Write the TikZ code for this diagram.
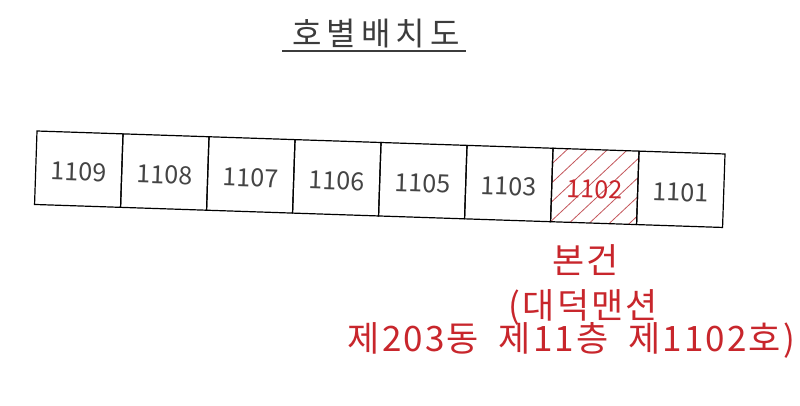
\documentclass[tikz,border=0pt]{standalone}
\usepackage{fontspec}
\newfontfamily\kr{Noto Sans CJK KR}
\newfontfamily\krsp[LetterSpace=6]{Noto Sans CJK KR}
\newfontfamily\krtitle[LetterSpace=16]{Noto Sans CJK KR}
\definecolor{titlegray}{HTML}{3C3C3C}
\definecolor{numgray}{HTML}{444444}
\definecolor{redtxt}{HTML}{C8262C}
\definecolor{hatchred}{HTML}{C4575C}
\tikzset{
  unitbox/.style={draw=black, line width=1.2pt, minimum width=86.05pt, minimum height=73.5pt, inner sep=0pt,
    text height=23.5pt, text depth=0pt,
    font=\kr\fontsize{25}{25}\selectfont, text=numgray},
  hatchline/.style={draw=hatchred, line width=0.8pt},
  redlabel/.style={font=\krsp\fontsize{35}{35}\selectfont, text=redtxt, inner sep=0pt, anchor=base}
}
\begin{document}
\begin{tikzpicture}[x=1pt,y=-1pt]
\useasboundingbox (0,0) rectangle (800,405);
\fill[white] (0,0) rectangle (800,405);
% title
\node[font=\krtitle\fontsize{32}{32}\selectfont, text=titlegray, inner sep=0pt, anchor=base] (title) at (376,45) {호별배치도};
\coordinate (ulA) at (282,51);
\coordinate (ulB) at (466,51);
\draw[titlegray, line width=2pt] (ulA) -- (ulB);
% strip
\begin{scope}[shift={(37,131)}, rotate=-1.915, transform shape]
  \begin{scope}
    \clip (516.3,0) rectangle (602.35,73.5);
    \foreach \k in {-5,...,5}
      \draw[hatchline] ({516.3+\k*19.5},73.5) -- ({516.3+\k*19.5+73.5},0);
  \end{scope}
  \node[unitbox] (b1109) at (43.03,36.75) {1109};
  \node[unitbox] (b1108) at (129.08,36.75) {1108};
  \node[unitbox] (b1107) at (215.13,36.75) {1107};
  \node[unitbox] (b1106) at (301.18,36.75) {1106};
  \node[unitbox] (b1105) at (387.23,36.75) {1105};
  \node[unitbox] (b1103) at (473.28,36.75) {1103};
  \node[unitbox, text=redtxt] (b1102) at (559.33,36.75) {1102};
  \node[unitbox] (b1101) at (645.38,36.75) {1101};
\end{scope}
% red description
\node[redlabel] (l1) at (585.5,273) {본건};
\node[redlabel] (l2) at (583.5,318) {(대덕맨션};
\node[redlabel] (l3) at (571.5,351) {제203동\hspace{20pt}제11층\hspace{20pt}제1102호)};
\end{tikzpicture}
\end{document}
